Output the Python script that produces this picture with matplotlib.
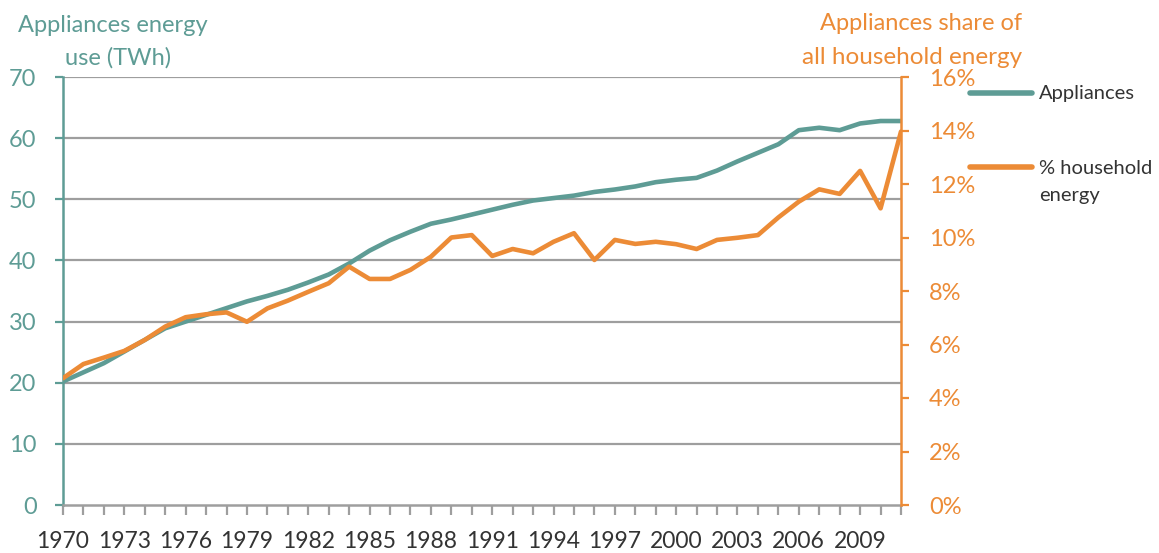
import matplotlib
matplotlib.use("Agg")
import matplotlib.pyplot as plt

plt.rcParams['font.family'] = ['Lato', 'DejaVu Sans']

years = list(range(1970, 2012))
appliances_twh = [20.2, 21.7, 23.2, 25.1, 27.0, 28.9, 30.0, 31.1, 32.2, 33.3,
                  34.2, 35.2, 36.4, 37.7, 39.5, 41.6, 43.3, 44.7, 46.0, 46.7,
                  47.5, 48.3, 49.1, 49.8, 50.2, 50.6, 51.2, 51.6, 52.1, 52.8,
                  53.2, 53.5, 54.7, 56.2, 57.6, 59.0, 61.3, 61.7, 61.3, 62.4,
                  62.8, 62.8]
household_share = [4.74, 5.27, 5.51, 5.76, 6.17, 6.67, 7.02, 7.13, 7.20, 6.85,
                   7.35, 7.64, 7.97, 8.29, 8.91, 8.45, 8.45, 8.79, 9.28, 10.00,
                   10.09, 9.31, 9.57, 9.41, 9.84, 10.16, 9.16, 9.91, 9.76, 9.84,
                   9.75, 9.57, 9.91, 9.99, 10.09, 10.75, 11.34, 11.80, 11.63, 12.49,
                   11.09, 13.96]
year_labels = [str(y) if (y - 1970) % 3 == 0 else "" for y in years]

teal = "#5E9C95"
orange = "#EC8B36"
grid_grey = "#9E9E9E"
text_dark = "#333333"

W, H = 1159, 553


def fx(px):
    return px / W


def fy(py):
    return 1 - py / H


fig = plt.figure(figsize=(W / 100, H / 100), dpi=100)
ax = fig.add_axes([fx(63), fy(505), (901 - 63) / W, (505 - 77) / H])
ax2 = ax.twinx()

ax.plot(years, appliances_twh, color=teal, lw=3.3, solid_capstyle='round', zorder=3)
ax2.plot(years, household_share, color=orange, lw=3.3, solid_capstyle='round', zorder=3)

ax.set_xlim(1970, 2011)
ax.set_ylim(0, 70)
ax2.set_ylim(0, 16)

ax.set_yticks(range(0, 71, 10))
ax2.set_yticks(range(0, 17, 2))
ax2.set_yticklabels([f"{v}%" for v in range(0, 17, 2)])
ax.set_xticks(years)
ax.set_xticklabels(year_labels)

# horizontal gridlines from the TWh axis
for v in range(10, 71, 10):
    ax.axhline(v, color=grid_grey, lw=1.6, zorder=1)

for a in (ax, ax2):
    a.spines['top'].set_visible(False)
    a.patch.set_visible(False)
ax2.spines['left'].set_visible(False)
ax2.spines['bottom'].set_visible(False)
ax.spines['right'].set_visible(False)

ax.spines['left'].set_color(teal)
ax.spines['left'].set_linewidth(1.8)
ax.spines['bottom'].set_color(grid_grey)
ax.spines['bottom'].set_linewidth(1.8)
ax2.spines['right'].set_color(orange)
ax2.spines['right'].set_linewidth(1.8)

ax.tick_params(axis='y', colors=teal, labelsize=17, length=6, width=1.6, pad=13)
ax.tick_params(axis='x', colors=grid_grey, labelcolor=text_dark, labelsize=16.5,
               length=7, width=1.6, pad=12)
ax2.tick_params(axis='y', colors=orange, labelsize=17, length=6, width=1.6, pad=14)

# axis titles, one text per line
fig.text(fx(18), fy(25), "Appliances energy", color=teal, fontsize=17,
         ha='left', va='center')
fig.text(fx(65), fy(58), "use (TWh)", color=teal, fontsize=17,
         ha='left', va='center')
fig.text(fx(1022), fy(24), "Appliances share of", color=orange, fontsize=17,
         ha='right', va='center')
fig.text(fx(1022), fy(57), "all household energy", color=orange, fontsize=17.5,
         ha='right', va='center')

# legend drawn by hand to the right of the plot
fig.add_artist(plt.Line2D([fx(970), fx(1032)], [fy(93)] * 2,
                          color=teal, lw=4, solid_capstyle='round'))
fig.text(fx(1039), fy(94), "Appliances", color=text_dark, fontsize=14.5,
         ha='left', va='center')
fig.add_artist(plt.Line2D([fx(970), fx(1032)], [fy(167)] * 2,
                          color=orange, lw=4, solid_capstyle='round'))
fig.text(fx(1039), fy(168), "% household", color=text_dark, fontsize=14.5,
         ha='left', va='center')
fig.text(fx(1039), fy(195), "energy", color=text_dark, fontsize=14.5,
         ha='left', va='center')

fig.savefig("out.png", dpi=100)
